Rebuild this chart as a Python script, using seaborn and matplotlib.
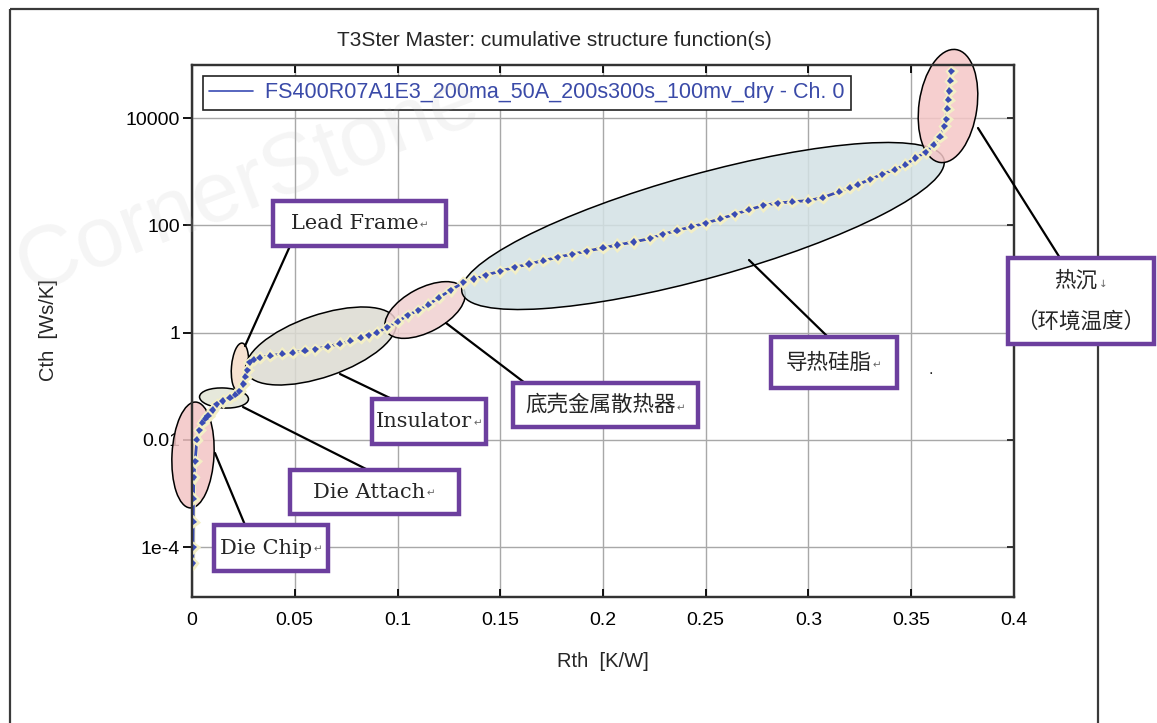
import matplotlib
matplotlib.use('Agg')
import matplotlib.pyplot as plt
import matplotlib.patheffects as pe
from matplotlib.patches import Ellipse, Rectangle
from matplotlib.lines import Line2D
from matplotlib.colors import to_rgba
from matplotlib.ticker import NullLocator
import pandas as pd
import seaborn as sns

W, H = 1157, 723

# cumulative structure function
RTH = [0.0004, 0.0005, 0.0006, 0.0007, 0.0009, 0.0015, 0.0024, 0.0035, 0.0050, 0.0065,
       0.0078, 0.0100, 0.0120, 0.0150, 0.0185, 0.0210, 0.0230, 0.0250, 0.0260, 0.0270,
       0.0280, 0.0300, 0.0330, 0.0380, 0.0440, 0.0490, 0.0550, 0.0600, 0.0660, 0.0720,
       0.0770, 0.0820, 0.0860, 0.0900, 0.0950, 0.1000, 0.1050, 0.1100, 0.1150, 0.1200,
       0.1260, 0.1320, 0.1370, 0.1430, 0.1500, 0.1570, 0.1640, 0.1710, 0.1780, 0.1850,
       0.1920, 0.2000, 0.2070, 0.2150, 0.2230, 0.2290, 0.2360, 0.2430, 0.2500, 0.2570,
       0.2640, 0.2710, 0.2780, 0.2850, 0.2920, 0.3000, 0.3070, 0.3150, 0.3200, 0.3240,
       0.3300, 0.3360, 0.3420, 0.3470, 0.3520, 0.3570, 0.3610, 0.3640, 0.3660, 0.3670,
       0.3675, 0.3680, 0.3685, 0.3690, 0.3695]
CTH = [5e-5, 1e-4, 3e-4, 8e-4, 2e-3, 4e-3, 0.010, 0.015, 0.021, 0.025,
       0.028, 0.036, 0.046, 0.053, 0.061, 0.070, 0.080, 0.11, 0.15, 0.20,
       0.28, 0.31, 0.34, 0.37, 0.40, 0.42, 0.46, 0.49, 0.55, 0.62,
       0.70, 0.80, 0.90, 1.0, 1.25, 1.6, 2.1, 2.6, 3.3, 4.5,
       6.2, 8.6, 10.0, 11.8, 14, 16.5, 19, 22, 25.5, 29,
       33, 38, 43, 49, 57, 68, 80, 94, 110, 132,
       160, 195, 235, 260, 275, 290, 330, 427, 500, 575,
       720, 900, 1100, 1350, 1800, 2300, 3200, 4500, 7000, 9500,
       15000, 22000, 32000, 50000, 74000]

XTICKS = [0, 0.05, 0.1, 0.15, 0.2, 0.25, 0.3, 0.35, 0.4]
XTICK_LABELS = ['0', '0.05', '0.1', '0.15', '0.2', '0.25', '0.3', '0.35', '0.4']
YTICKS = [1e-4, 1e-2, 1, 1e2, 1e4]
YTICK_LABELS = ['1e-4', '0.01', '1', '100', '10000']

TITLE = 'T3Ster Master: cumulative structure function(s)'
LEGEND_LABEL = 'FS400R07A1E3_200ma_50A_200s300s_100mv_dry - Ch. 0'
X_LABEL = 'Rth  [K/W]'
Y_LABEL = 'Cth  [Ws/K]'

LINE_BLUE = '#3a4cb4'
PURPLE = '#6c3f9e'
SERIF = ['DejaVu Serif', 'DejaVu Sans']
CJK = ['Noto Sans CJK SC', 'DejaVu Sans']

# highlighted regions (picture pixels): cx, cy, width, height, tilt, fill
REGIONS = [
    (193, 455, 42, 106, -3, '#f3c5c5'),     # die chip
    (224, 398, 49, 20, -3, '#e2e5d5'),      # die attach
    (240, 367, 17, 48, -5, '#f6dcc8'),      # lead frame
    (321, 346, 158, 62, 19, '#dcdbd2'),     # insulator
    (425, 310, 88, 44, 28, '#f0d0d0'),      # base plate
    (703, 226, 500, 104, 15.5, '#d3e1e4'),  # thermal grease
    (948, 106, 58, 114, -8, '#f5c7c7'),     # heat sink
]

# callout boxes: text lines, box, leader line, font, return mark
CALLOUTS = [
    (['Lead Frame'], (273, 201, 446, 246), ((290, 246), (245, 346)), SERIF, '↵'),
    (['Insulator'], (372, 399, 486, 444), ((392, 399), (340, 374)), SERIF, '↵'),
    (['底壳金属散热器'], (513, 383, 698, 427), ((525, 383), (446, 323)), CJK, '↵'),
    (['Die Attach'], (290, 470, 459, 514), ((368, 470), (243, 407)), SERIF, '↵'),
    (['Die Chip'], (214, 525, 328, 571), ((245, 525), (215, 453)), SERIF, '↵'),
    (['导热硅脂'], (771, 337, 897, 388), ((828, 337), (749, 260)), CJK, '↵'),
    (['热沉', '（环境温度）'], (1008, 258, 1154, 344), ((1060, 258), (978, 128)), CJK, '↓'),
]

sns.set_style('white')
plt.rcParams['font.family'] = ['Liberation Sans', 'DejaVu Sans']

fig = plt.figure(figsize=(W / 100, H / 100), dpi=100)
ax = fig.add_axes([192 / W, 1 - 597 / H, 822 / W, 532 / H])
ov = fig.add_axes([0, 0, 1, 1], zorder=10)
ov.set_xlim(0, W)
ov.set_ylim(H, 0)
ov.axis('off')

df = pd.DataFrame({'Rth': RTH, 'Cth': CTH})
sns.lineplot(data=df, x='Rth', y='Cth', ax=ax, color=LINE_BLUE, lw=2.0,
             marker='D', markersize=3.6, markeredgewidth=0,
             estimator=None, sort=False, legend=False, zorder=4)
ax.lines[0].set_path_effects([pe.Stroke(linewidth=3.4, foreground='#f3efc6'), pe.Normal()])

ax.set_yscale('log')
ax.set_xlim(0, 0.4)
ax.set_ylim(10 ** -4.93, 10 ** 4.99)
ax.set_xticks(XTICKS)
ax.set_xticklabels(XTICK_LABELS)
ax.set_yticks(YTICKS)
ax.set_yticklabels(YTICK_LABELS)
ax.yaxis.set_minor_locator(NullLocator())
ax.grid(True, color='#a8a8a8', lw=1.0)
ax.set_axisbelow(True)
ax.tick_params(axis='x', direction='in', length=5.5, width=1.3, top=True, bottom=True,
               labelsize=14, pad=10.5, colors='black')
ax.tick_params(axis='y', direction='out', length=6.5, width=1.3, left=True, right=False,
               labelsize=14, pad=2, colors='black')
for s in ax.spines.values():
    s.set_color('#333333')
    s.set_linewidth(1.6)

# right side ticks point inward
ax_r = ax.twinx()
ax_r.set_yscale('log')
ax_r.set_ylim(ax.get_ylim())
ax_r.set_yticks(YTICKS)
ax_r.yaxis.set_minor_locator(NullLocator())
ax_r.tick_params(axis='y', direction='in', length=5, width=1.3, right=True, labelright=False)
for s in ax_r.spines.values():
    s.set_color('#333333')
    s.set_linewidth(1.6)

ax.set_xlabel(X_LABEL, fontsize=14.5)
ax.xaxis.set_label_coords((603 - 192) / 822, (597 - 652) / 532)
ax.set_ylabel(Y_LABEL, fontsize=14.5)
ax.yaxis.set_label_coords((58 - 192) / 822, (597 - 330) / 532)

leg = ax.legend(handles=[Line2D([], [], color=LINE_BLUE, lw=1.2)], labels=[LEGEND_LABEL],
                loc='upper left', bbox_to_anchor=((203 - 192) / 822, (597 - 76) / 532),
                borderaxespad=0, frameon=True, fancybox=False, framealpha=1,
                edgecolor='#222222', fontsize=15.5, handlelength=2.0, handletextpad=0.6,
                borderpad=0.3, labelcolor='#3a4aa8')
leg.get_frame().set_linewidth(1.2)

# highlighted regions behind the curve
for cx, cy, w, h, ang, col in REGIONS:
    ax.add_patch(Ellipse((cx, cy), w, h, angle=-ang, fc=to_rgba(col, 0.85), ec='black',
                         lw=1.1, transform=ov.transData, clip_on=False, zorder=2))

fig.text(554 / W, 1 - 40 / H, TITLE, ha='center', va='center', fontsize=15)

# outer frame and faint watermark
ov.add_patch(Rectangle((10, 9), 1088, 760, fill=False, ec='#3a3a3a', lw=1.6, zorder=1))
ov.text(6, 292, 'CornerStone', rotation=21, fontsize=62, color='#bbbbbb', alpha=0.15,
        ha='left', va='baseline', zorder=0)
ov.text(931, 374, '.', fontsize=12, ha='center', va='baseline')

renderer = fig.canvas.get_renderer()
for lines, (x0, y0, x1, y1), (p, q), fam, mark in CALLOUTS:
    ov.plot([p[0], q[0]], [p[1], q[1]], color='black', lw=1.6, zorder=2)
    ov.add_patch(Rectangle((x0, y0), x1 - x0, y1 - y0, fc='white', ec=PURPLE, lw=3.2, zorder=3))
    n = len(lines)
    step = (y1 - y0) / (n + 0.1)
    for i, txt in enumerate(lines):
        yc = y0 + step * (i + 0.55) if n > 1 else (y0 + y1) / 2
        t = ov.text((x0 + x1) / 2 - (5 if i == 0 else 0), yc, txt, ha='center', va='center',
                    fontsize=15 if fam is SERIF else 15.5, family=fam, zorder=4)
        if i == 0:
            bb = t.get_window_extent(renderer)
            xr, yb = ov.transData.inverted().transform((bb.x1, bb.y0))
            ov.text(xr + 1, yb - 3, mark, ha='left', va='bottom', fontsize=7.5,
                    color='#666666', family=['DejaVu Sans'], zorder=4)

fig.savefig('out.png', dpi=100, facecolor='white')
